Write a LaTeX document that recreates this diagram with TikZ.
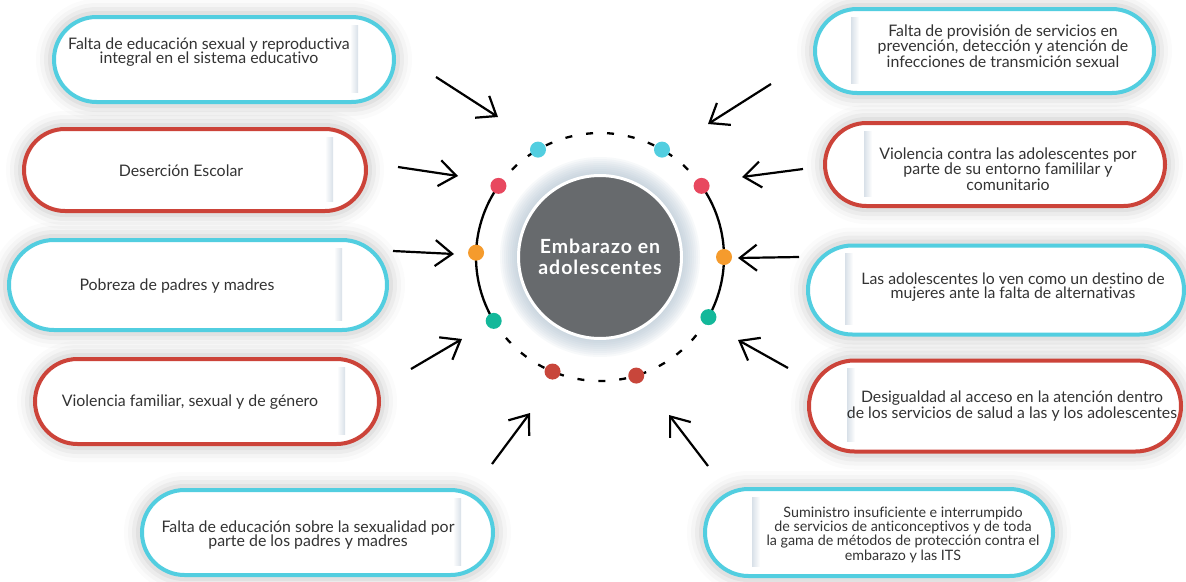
\documentclass[tikz,border=0pt]{standalone}
\usepackage{fontspec}
\setmainfont{Lato}[Ligatures=NoCommon]
\usetikzlibrary{arrows.meta,calc}
\definecolor{cyb}{HTML}{52CEE0}
\definecolor{rdb}{HTML}{CC4339}
\definecolor{pkd}{HTML}{E8485F}
\definecolor{ogd}{HTML}{F59B2D}
\definecolor{tld}{HTML}{13B89A}
\definecolor{drd}{HTML}{C8463B}
\definecolor{cgr}{HTML}{676A6D}
\definecolor{txc}{HTML}{333333}
\definecolor{shd}{HTML}{D8E0E8}
\definecolor{glowc}{HTML}{A9BBCC}
% name, cx, cy (down), w, h, colour, shade x, side
\newcommand\Pill[8]{%
  \foreach \d/\o in {16/0.015,12/0.025,8/0.035,4/0.045}{%
    \pgfmathsetmacro\rr{#5/2+\d}%
    \fill[black,opacity=\o,rounded corners=\rr pt] ({#2-#4/2-\d},{-#3-#5/2-\d}) rectangle ({#2+#4/2+\d},{-#3+#5/2+\d});
  }%
  \pgfmathsetmacro\rc{(#5-4)/2}%
  \node[draw=#6,line width=4pt,fill=white,rounded corners=\rc pt,minimum width=#4pt-4pt,minimum height=#5pt-4pt,inner sep=0pt] (#1) at (#2,-#3) {};
  \if#8L
    \shade[left color=white,right color=shd] ({#7-8},{-#3-#5/2+12}) rectangle ({#7},{-#3+#5/2-10});
  \else
    \shade[left color=shd,right color=white] ({#7},{-#3-#5/2+12}) rectangle ({#7+8},{-#3+#5/2-10});
  \fi
}
\tikzset{
  txt/.style={align=center,text=txc,inner sep=0pt,font=\fontsize{15.9}{14.8}\selectfont},
  arr/.style={line width=2.2pt,-{Straight Barb[length=17pt,width=26pt,line width=2.2pt]}},
  dot/.style={circle,fill=#1,minimum size=16pt,inner sep=0pt},
  ring/.style={line width=2.3pt}
}
\begin{document}
\begin{tikzpicture}[x=1pt,y=1pt]
\useasboundingbox (0,0) rectangle (1186,-581);
\fill[white] (0,0) rectangle (1186,-581);
% boxes
\Pill{b1}{224}{59.5}{344}{89}{cyb}{358}{L}
\Pill{b2}{195}{170}{346}{86}{rdb}{333}{L}
\Pill{b3}{198}{285}{382}{94}{cyb}{342}{L}
\Pill{b4}{207}{401.5}{348}{89}{rdb}{345}{L}
\Pill{b5}{317.5}{532.5}{355}{89}{cyb}{461}{L}
\Pill{b6}{984.5}{51}{343}{88}{cyb}{851}{R}
\Pill{b7}{995}{164.5}{344}{87}{rdb}{864}{R}
\Pill{b8}{996}{290}{380}{93}{cyb}{845}{R}
\Pill{b9}{995}{406}{376}{95}{rdb}{847}{R}
\Pill{b10}{879}{532.5}{352}{91}{cyb}{752}{R}
% texts
\node[txt] (t1) at (209,-52) {Falta de educación sexual y reproductiva\\integral en el sistema educativo};
\node[txt] (t2) at (181,-171) {Deserción Escolar};
\node[txt] (t3) at (177,-286) {Pobreza de padres y madres};
\node[txt] (t4) at (190,-402) {Violencia familiar, sexual y de género};
\node[txt] (t5) at (308,-535) {Falta de educación sobre la sexualidad por\\parte de los padres y madres};
\node[txt,font=\fontsize{15.9}{14.2}\selectfont] (t6) at (1003,-46) {Falta de provisión de servicios en\\prevención, detección y atención de\\infecciones de transmición sexual};
\node[txt,font=\fontsize{15.9}{14.2}\selectfont] (t7) at (1008,-169) {Violencia contra las adolescentes por\\parte de su entorno famililar y\\comunitario};
\node[txt,font=\fontsize{15.8}{14}\selectfont] (t8) at (1013,-287) {Las adolescentes lo ven como un destino de\\mujeres ante la falta de alternativas};
\node[txt,font=\fontsize{15.8}{13.6}\selectfont] (t9) at (1012,-406) {Desigualdad al acceso en la atención dentro\\de los servicios de salud a las y los adolescentes};
\node[txt,font=\fontsize{14.3}{12.4}\selectfont] (t10) at (903,-535) {Suministro insuficiente e interrumpido\\de servicios de anticonceptivos y de toda\\la gama de métodos de protección contra el\\embarazo y las ITS};
% centre
\coordinate (c) at (600,-257);
\foreach \r in {84,86,...,100}{\fill[glowc,opacity=0.085] (c) circle (\r pt);}
\node[circle,fill=cgr,draw=white,line width=3pt,minimum size=163pt,inner sep=0pt,text=white,align=center,font=\bfseries\fontsize{19.5}{20.5}\selectfont\addfontfeatures{LetterSpace=5}] (cc) at (c) {Embarazo en\\adolescentes};
% ring
\draw[ring] ([shift={(145:124)}]c) arc[start angle=145,end angle=211,radius=124];
\draw[ring] ([shift={(-29:124)}]c) arc[start angle=-29,end angle=35,radius=124];
\draw[ring,dash pattern=on 7pt off 14pt] ([shift={(35:124)}]c) arc[start angle=35,end angle=145,radius=124];
\draw[ring,dash pattern=on 7pt off 14pt] ([shift={(211:124)}]c) arc[start angle=211,end angle=331,radius=124];
% dots
\node[dot=cyb] (d1) at ([shift={(120:124)}]c) {};
\node[dot=cyb] (d2) at ([shift={(60:124)}]c) {};
\node[dot=pkd] (d3) at ([shift={(145:124)}]c) {};
\node[dot=pkd] (d4) at ([shift={(35:124)}]c) {};
\node[dot=ogd] (d5) at ([shift={(178:124)}]c) {};
\node[dot=ogd] (d6) at ([shift={(0:124)}]c) {};
\node[dot=tld] (d7) at ([shift={(211:124)}]c) {};
\node[dot=tld] (d8) at ([shift={(331:124)}]c) {};
\node[dot=drd] (d9) at ([shift={(247.5:124)}]c) {};
\node[dot=drd] (d10) at ([shift={(287:124)}]c) {};
% arrows
\coordinate (a1s) at (436,-77);  \coordinate (a1e) at (498,-117);
\coordinate (a2s) at (398,-167); \coordinate (a2e) at (458,-176);
\coordinate (a3s) at (393,-251); \coordinate (a3e) at (454,-254);
\coordinate (a4s) at (411,-369); \coordinate (a4e) at (462,-339);
\coordinate (a5s) at (492,-464); \coordinate (a5e) at (530,-413);
\coordinate (a6s) at (771,-84);  \coordinate (a6e) at (708,-124);
\coordinate (a7s) at (803,-169); \coordinate (a7e) at (742,-177);
\coordinate (a8s) at (799,-257); \coordinate (a8e) at (738,-258);
\coordinate (a9s) at (788,-368); \coordinate (a9e) at (738,-340);
\coordinate (a10s) at (708,-466); \coordinate (a10e) at (669,-415);
\foreach \i in {1,...,10}{\draw[arr] (a\i s) -- (a\i e);}
\end{tikzpicture}
\end{document}
